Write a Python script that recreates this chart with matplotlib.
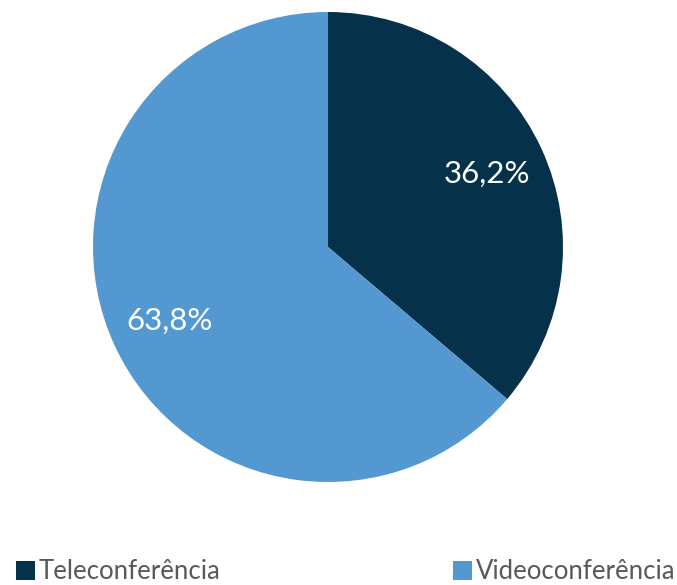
import matplotlib.pyplot as plt
from matplotlib.patches import Patch
import numpy as np

categorias = ['Teleconferência', 'Videoconferência']
valores = [36.2, 63.8]
rotulos = ['36,2%', '63,8%']
cores = ['#06314a', '#5498d2']

plt.rcParams['font.family'] = ['Lato', 'DejaVu Sans']

fig = plt.figure(figsize=(6.77, 5.85), dpi=100)
# eixo do pizza posicionado em pixels da referencia
cx, cy, r = 328, 247, 235
ax = fig.add_axes([(cx - r) / 677, (585 - cy - r) / 585, 2 * r / 677, 2 * r / 585])

wedges, _ = ax.pie(valores, colors=cores, startangle=90, counterclock=False,
                   radius=1.0, wedgeprops=dict(linewidth=0))
ax.set_xlim(-1, 1)
ax.set_ylim(-1, 1)
ax.set_aspect('equal')
ax.axis('off')

# rotulos de porcentagem
inicio = 90
for v, txt in zip(valores, rotulos):
    meio = inicio - v * 360 / 100 / 2
    ang = np.deg2rad(meio)
    ax.text(0.745 * np.cos(ang), 0.745 * np.sin(ang), txt, color='white',
            fontsize=22.5, fontweight='normal', ha='center', va='center')
    inicio -= v * 360 / 100

handles = [Patch(facecolor=c, edgecolor='none') for c in cores]
leg = fig.legend(handles, categorias, loc='lower left', ncol=2, mode='expand',
                 bbox_to_anchor=(0.008, -0.016, 1.005, 0.1), frameon=False,
                 fontsize=18.5, handlelength=0.75, handleheight=0.75,
                 handletextpad=0.15, borderaxespad=0)
for t in leg.get_texts():
    t.set_color('#595959')

fig.savefig('out.png', dpi=100)
